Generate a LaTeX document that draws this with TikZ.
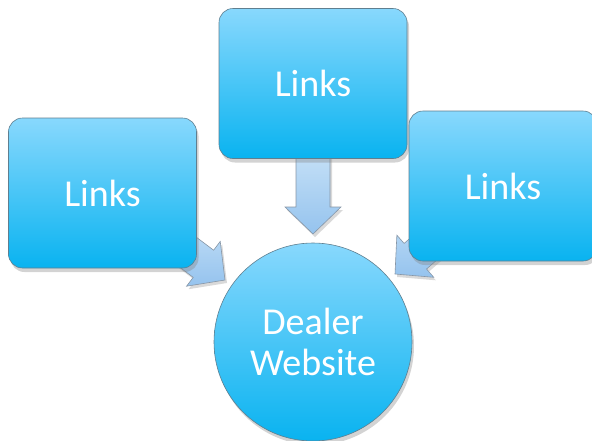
\documentclass[tikz,border=0pt]{standalone}
\usepackage{fontspec}
\setmainfont{Carlito}
\usetikzlibrary{shadows}
\definecolor{boxtop}{HTML}{88D8FD}
\definecolor{boxbot}{HTML}{09B3F0}
\definecolor{boxline}{HTML}{5F7F90}
\definecolor{arrtop}{HTML}{C6E1F7}
\definecolor{arrbot}{HTML}{95C3EE}
\definecolor{arrline}{HTML}{8796A6}
\tikzset{
  linkbox/.style={draw=boxline, line width=0.6pt, rounded corners=14pt,
    top color=boxtop, bottom color=boxbot, text=white,
    minimum width=188pt, minimum height=150pt, inner sep=0pt,
    font=\fontsize{38}{41}\selectfont,
    drop shadow={shadow xshift=2pt, shadow yshift=-4pt, opacity=0.35, fill=gray}},
  sitecircle/.style={circle, draw=boxline, line width=0.6pt,
    top color=boxtop, bottom color=boxbot, text=white,
    minimum size=198pt, inner sep=0pt, align=center,
    font=\fontsize{38}{41}\selectfont,
    drop shadow={shadow xshift=2pt, shadow yshift=-4pt, opacity=0.35, fill=gray}},
  blockarrow/.style={draw=arrline, line width=0.6pt,
    top color=arrtop, bottom color=arrbot,
    drop shadow={shadow xshift=2pt, shadow yshift=-3pt, opacity=0.3, fill=gray}}
}
\newcommand{\blockarrowpath}{(0,0) -- (-27,28) -- (-27,17) -- (-84,17) -- (-84,-17) -- (-27,-17) -- (-27,-28) -- cycle}
\begin{document}
\begin{tikzpicture}[x=1pt,y=-1pt]
\useasboundingbox (0,0) rectangle (592,440);
\clip (0,0) rectangle (592,440);
% arrows (behind boxes)
\coordinate (tipL) at (225,280);
\coordinate (tipT) at (313,234);
\coordinate (tipR) at (395,274);
\begin{scope}[shift={(tipL)}, rotate=-36.9]
  \path[blockarrow] \blockarrowpath;
\end{scope}
\begin{scope}[shift={(tipT)}, rotate=-90]
  \path[blockarrow] \blockarrowpath;
\end{scope}
\begin{scope}[shift={(tipR)}, rotate=-138.8]
  \path[blockarrow] \blockarrowpath;
\end{scope}
% boxes
\node[linkbox] (left) at (102.5,193) {Links};
\node[linkbox] (top) at (313,83.5) {Links};
\node[linkbox] (right) at (503,186) {Links};
% circle
\node[sitecircle] (site) at (313,342) {Dealer\\Website};
\end{tikzpicture}
\end{document}
